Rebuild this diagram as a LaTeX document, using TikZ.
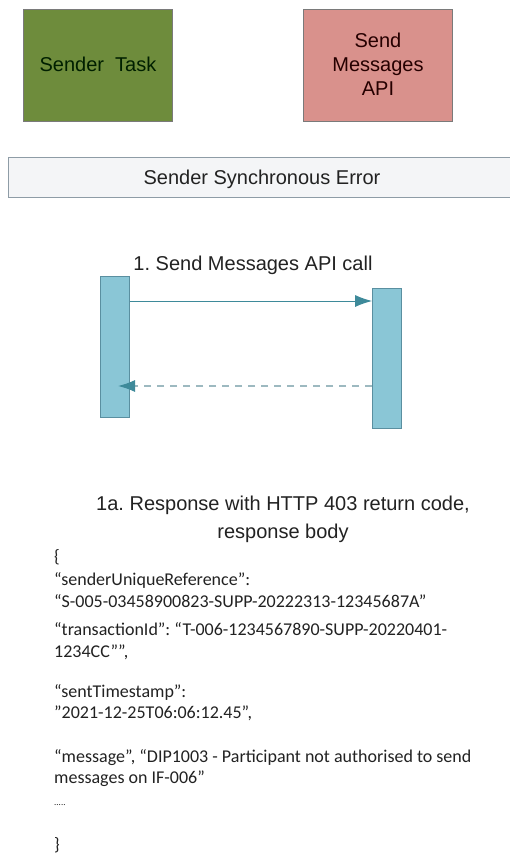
\documentclass[tikz,border=0pt]{standalone}
\usepackage{fontspec}
\setmainfont{Liberation Sans}
\newfontfamily\bodyfont{Carlito}
\usetikzlibrary{arrows.meta}
\definecolor{greenbox}{HTML}{6E8C3C}
\definecolor{pinkbox}{HTML}{D9918C}
\definecolor{boxline}{HTML}{7A7A7A}
\definecolor{barfill}{HTML}{8AC6D6}
\definecolor{barline}{HTML}{5A8FA0}
\definecolor{arrowcol}{HTML}{3E8A9A}
\definecolor{dashcol}{HTML}{9DB9C0}
\definecolor{bannerfill}{HTML}{F4F5F7}
\definecolor{bannerline}{HTML}{8E9CA6}
\definecolor{txt}{HTML}{222222}
\frenchspacing
\begin{document}
\begin{tikzpicture}[x=1pt,y=-1pt,
  actor/.style={draw=boxline, line width=1pt, minimum width=149pt, minimum height=112pt, inner sep=0pt, align=center, font=\fontsize{20pt}{24pt}\selectfont},
  bar/.style={draw=barline, fill=barfill, line width=0.8pt, minimum width=29pt, inner sep=0pt},
  head/.style={font=\fontsize{20pt}{24pt}\selectfont, text=txt, inner sep=0pt, anchor=base},
  json/.style={font=\bodyfont\fontsize{18pt}{22pt}\selectfont, text=txt, inner sep=0pt, anchor=base west},
  msg/.style={draw=arrowcol, line width=1pt, -{Latex[length=17pt,width=12pt,color=arrowcol]}}]
\useasboundingbox (0,0) rectangle (509,858);
\fill[white] (0,0) rectangle (509,858);
% actors
\node[actor, fill=greenbox] (sender) at (97.5,66) {};
\node[head, text=black!80!green!60!black] (sendertxt) at (98,72) {Sender\ \ Task};
\node[actor, fill=pinkbox] (api) at (378,66) {};
\node[head, text=black!85!red] (apitxt1) at (378,48) {Send};
\node[head, text=black!85!red] (apitxt2) at (378,72) {Messages};
\node[head, text=black!85!red] (apitxt3) at (378,96) {API};
% banner
\draw[draw=bannerline, fill=bannerfill, line width=1pt] (8,158) rectangle (515,198);
\node[head] (banner) at (262,185) {Sender Synchronous Error};
% sequence
\node[head] (calllbl) at (253,271) {1. Send Messages API call};
\node[bar, minimum height=141pt] (lbar) at (115,346.5) {};
\node[bar, minimum height=140pt] (rbar) at (387,358) {};
\coordinate (ltip) at (118,386);
\draw[msg] (lbar.east |- 0,301) -- (rbar.west |- 0,301);
\draw[msg, draw=dashcol, line width=1.3pt, dash pattern=on 7pt off 6pt] (rbar.west |- 0,386) -- (ltip);
% response
\node[head] (resp1) at (283,510) {1a. Response with HTTP 403 return code,};
\node[head] (resp2) at (283,538) {response body};
\node[json] (j0) at (54,562) {\{};
\node[json] (j1) at (54,585) {“senderUniqueReference”:};
\node[json] (j2) at (54,607) {“S-005-03458900823-SUPP-20222313-12345687A”};
\node[json] (j3) at (54,635) {“transactionId”: “T-006-1234567890-SUPP-20220401-};
\node[json] (j4) at (54,657) {1234CC””,};
\node[json] (j5) at (54,697) {“sentTimestamp”:};
\node[json] (j6) at (54,718) {”2021-12-25T06:06:12.45”,};
\node[json] (j7) at (54,762) {“message”, “DIP1003 - Participant not authorised to send};
\node[json] (j8) at (54,783) {messages on IF-006”};
\node[json, font=\bodyfont\fontsize{9pt}{10pt}\selectfont] (j9) at (54,805) {.....};
\node[json] (j10) at (54,850) {\}};
\end{tikzpicture}
\end{document}
